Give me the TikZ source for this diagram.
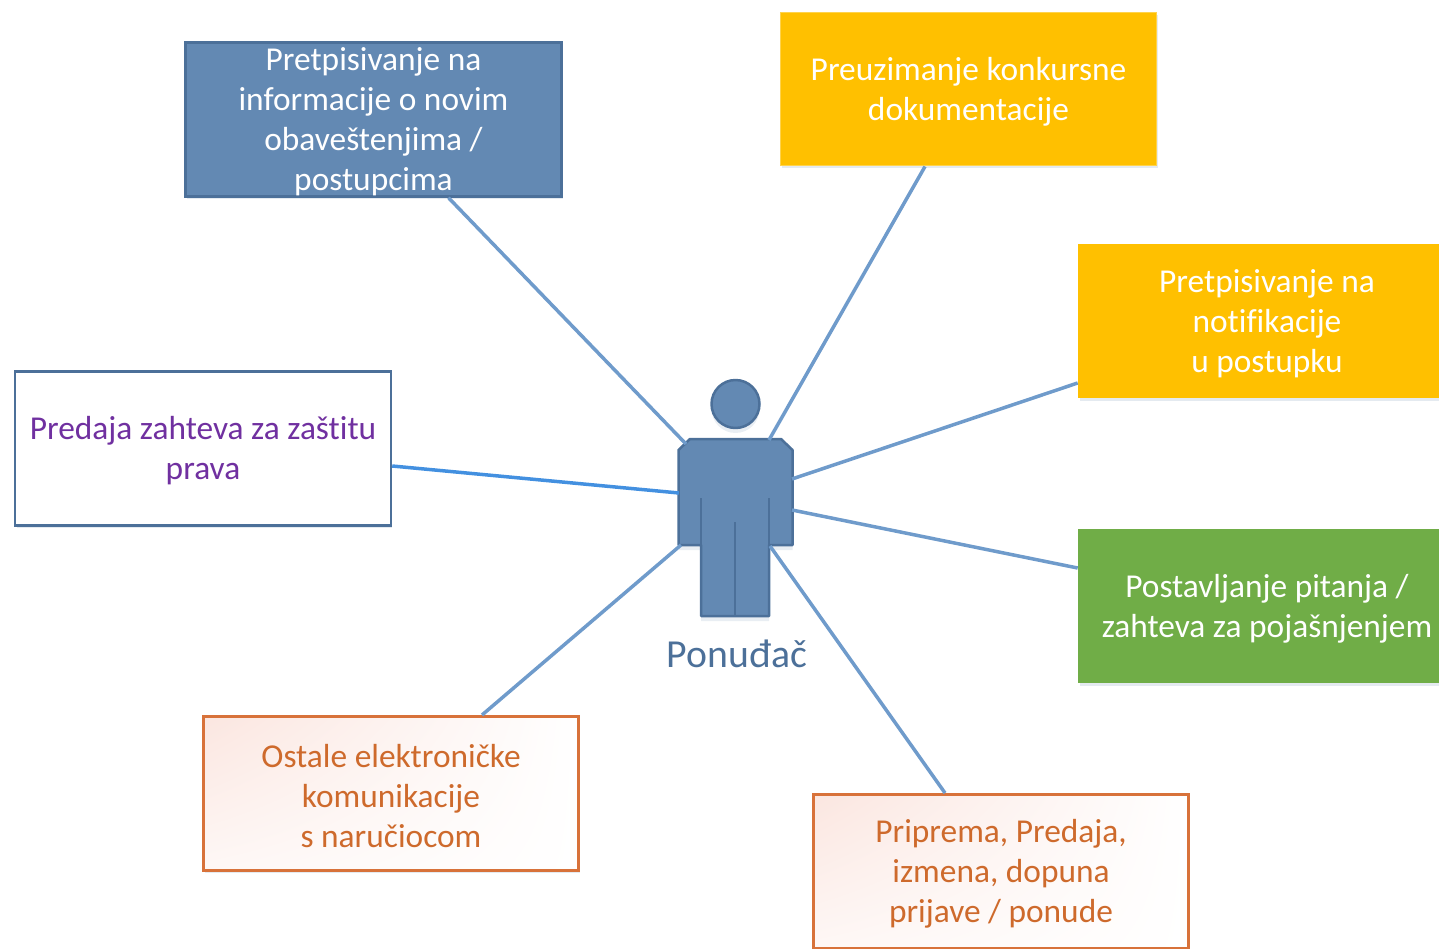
\documentclass[tikz,border=0pt]{standalone}
\usepackage{fontspec}
\setmainfont[Ligatures=NoCommon]{Carlito}
\usetikzlibrary{shadows,shadings}
\definecolor{blueFill}{HTML}{6389B3}
\definecolor{blueEdge}{HTML}{4C7099}
\definecolor{yellowFill}{HTML}{FFC000}
\definecolor{greenFill}{HTML}{70AD47}
\definecolor{orangeEdge}{HTML}{D8723A}
\definecolor{orangeText}{HTML}{CE6A2C}
\definecolor{purpleText}{HTML}{7030A0}
\definecolor{linkBlue}{HTML}{6F9BCB}
\definecolor{pinkFill}{HTML}{FBE6E0}
\newcommand{\firstrow}{\rule{0pt}{0.56cm}}
\tikzset{
  box/.style={rectangle, minimum width=7.52cm, minimum height=3.08cm, inner sep=0,
    align=center, font=\fontsize{19}{22.76}\selectfont,
    drop shadow={shadow xshift=0.03cm, shadow yshift=-0.05cm, opacity=0.15, fill=blueEdge}},
  filled/.style={box, text=white},
  bare/.style={filled, minimum width=7.56cm, minimum height=3.1cm},
  link/.style={draw=linkBlue, line width=0.07cm},
  person/.style={draw=blueEdge, fill=blueFill, line width=0.05cm, line join=round,
    drop shadow={shadow xshift=0, shadow yshift=-0.1cm, opacity=0.12, fill=blueEdge}},
  limb/.style={draw=blueEdge, line width=0.05cm},
  orangebox/.style={box, draw=orangeEdge, line width=0.06cm, text=orangeText,
    upper left=pinkFill, upper right=white, lower left=pinkFill!30!white, lower right=white}
}
\begin{document}
\begin{tikzpicture}[x=0.02cm, y=-0.02cm]
  \useasboundingbox (0,0) rectangle (1439,949);

  % boxes around the person
  \node [filled, draw=blueEdge, line width=0.05cm, fill=blueFill](obavestenja) at (373.5,119.5)
    {\firstrow Pretpisivanje na\\informacije o novim\\obaveštenjima /\\postupcima};
  \node [filled, draw=yellowFill!70!white, line width=0.02cm, fill=yellowFill](dokumentacija) at (968.5,89)
    {\firstrow Preuzimanje konkursne\\dokumentacije};
  \node [bare, fill=yellowFill](notifikacije) at (1267,321)
    {\firstrow Pretpisivanje na\\notifikacije\\u postupku};
  \node [bare, fill=greenFill](pitanja) at (1267,606)
    {\firstrow Postavljanje pitanja /\\zahteva za pojašnjenjem};
  \node [box, draw=blueEdge, line width=0.05cm, fill=white, text=purpleText](zastita) at (203,448.5)
    {\firstrow Predaja zahteva za zaštitu\\prava};
  \node [orangebox](komunikacije) at (391,793.5)
    {\firstrow Ostale elektroničke\\komunikacije\\s naručiocom};
  \node [orangebox](prijava) at (1001,871.5)
    {\firstrow Priprema, Predaja,\\izmena, dopuna\\prijave / ponude};

  % person
  \node [person, circle, minimum size=0.96cm, inner sep=0](glava) at (735.5,404) {};
  \draw [person] (690,439) -- (678.5,450) -- (678.5,545) -- (701,545) -- (701,616) -- (769,616)
    -- (769,545) -- (792.5,545) -- (792.5,450) -- (781,439) -- cycle;
  \draw [limb] (701,498) -- (701,545);
  \draw [limb] (769,498) -- (769,545);
  \draw [limb] (735,522) -- (735,616);
  \node [text=blueEdge, font=\fontsize{22.6}{27}\selectfont](ponudjac) at (737,654) {Ponuđač};

  % free ends on the body
  \coordinate (a) at (686,444);
  \coordinate (b) at (769,440);
  \coordinate (c) at (792,479);
  \coordinate (d) at (792,510);
  \coordinate (e) at (679,493);
  \coordinate (f) at (681,545);
  \coordinate (g) at (770,546);

  \draw [link] ([xshift=1.5cm]obavestenja.south) -- (a);
  \draw [link] ([xshift=-0.87cm]dokumentacija.south) -- (b);
  \draw [link] ([yshift=-1.24cm]notifikacije.west) -- (c);
  \draw [link] ([yshift=0.76cm]pitanja.west) -- (d);
  \draw [link, draw=linkBlue!75!blue!80!cyan] ([yshift=-0.35cm]zastita.east) -- (e);
  \draw [link] ([xshift=1.82cm]komunikacije.north) -- (f);
  \draw [link] ([xshift=-1.12cm]prijava.north) -- (g);
\end{tikzpicture}
\end{document}
